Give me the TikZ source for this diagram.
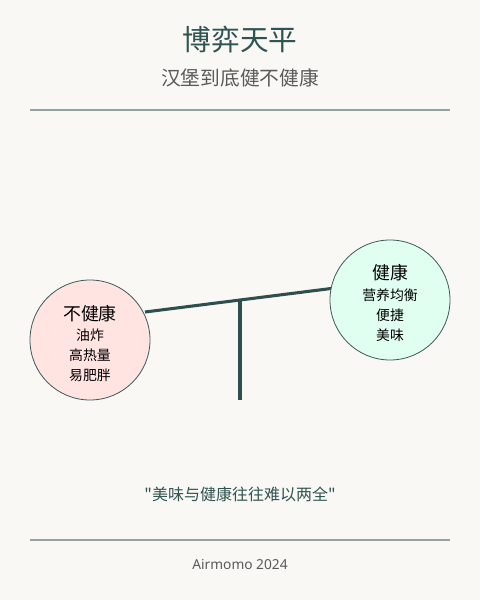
\documentclass[tikz,border=0pt]{standalone}
\usepackage{fontspec}
\setmainfont{Noto Sans CJK SC}
\newfontfamily\cjk{Noto Sans CJK SC}
\newfontfamily\cjkmed{Noto Sans CJK SC Medium}
\newfontfamily\latinfont{Noto Sans}
\definecolor{bg}{HTML}{F9F8F5}
\definecolor{teal}{HTML}{2F5451}
\definecolor{graytxt}{HTML}{5A5A5A}
\definecolor{rule}{HTML}{95A3A3}
\definecolor{pinkfill}{HTML}{FFE4E1}
\definecolor{mintfill}{HTML}{E0FFF0}
\definecolor{beam}{HTML}{2F4F4F}
\definecolor{edge}{HTML}{3D5A5A}
\tikzset{
  px/.style={x=0.75pt,y=-0.75pt},
  title/.style={font=\cjk\fontsize{21.5pt}{24pt}\selectfont, text=teal},
  subtitle/.style={font=\cjk\fontsize{14.8pt}{17pt}\selectfont, text=graytxt},
  rulestyle/.style={draw=rule, line width=1.5pt},
  pan/.style={circle, draw=edge, line width=0.6pt, minimum size=90pt, inner sep=0pt},
  beamline/.style={draw=beam, line width=2.3pt},
  headtxt/.style={font=\cjk\fontsize{13.4pt}{15pt}\selectfont, text=black},
  itemtxt/.style={font=\cjk\fontsize{10.4pt}{12pt}\selectfont, text=black},
  quotetxt/.style={font=\cjk\fontsize{12pt}{14pt}\selectfont, text=teal},
  foot/.style={font=\latinfont\fontsize{10.3pt}{12pt}\selectfont, text=graytxt},
}
\begin{document}
\begin{tikzpicture}[px]
\fill[bg] (0,0) rectangle (480,600);
\useasboundingbox (0,0) rectangle (480,600);
\node[title] (t) at (240,40) {博弈天平};
\node[subtitle] (st) at (240,78) {汉堡到底健不健康};
\coordinate (r1a) at (30,110);
\coordinate (r1b) at (450,110);
\draw[rulestyle] (r1a) -- (r1b);
% beam
\coordinate (bl) at (145,312);
\coordinate (br) at (335,288);
\coordinate (pivot) at (240,300);
\coordinate (base) at (240,400);
\draw[beamline] (bl) -- (br);
\draw[beamline] (pivot) -- (base);
% pans
\node[pan, fill=pinkfill] (left) at (90,340) {};
\node[pan, fill=mintfill] (right) at (390,300) {};
\node[headtxt] (lh) at (90,314) {不健康};
\node[itemtxt] (l1) at (90,335) {油炸};
\node[itemtxt] (l2) at (90,355) {高热量};
\node[itemtxt] (l3) at (90,375) {易肥胖};
\node[headtxt] (rh) at (390,273) {健康};
\node[itemtxt] (r1) at (390,295) {营养均衡};
\node[itemtxt] (r2) at (390,315) {便捷};
\node[itemtxt] (r3) at (390,335) {美味};
\node[quotetxt] (q) at (240,494) {"美味与健康往往难以两全"};
\coordinate (r2a) at (30,540);
\coordinate (r2b) at (450,540);
\draw[rulestyle] (r2a) -- (r2b);
\node[foot] (f) at (240,565) {Airmomo 2024};
\end{tikzpicture}
\end{document}
